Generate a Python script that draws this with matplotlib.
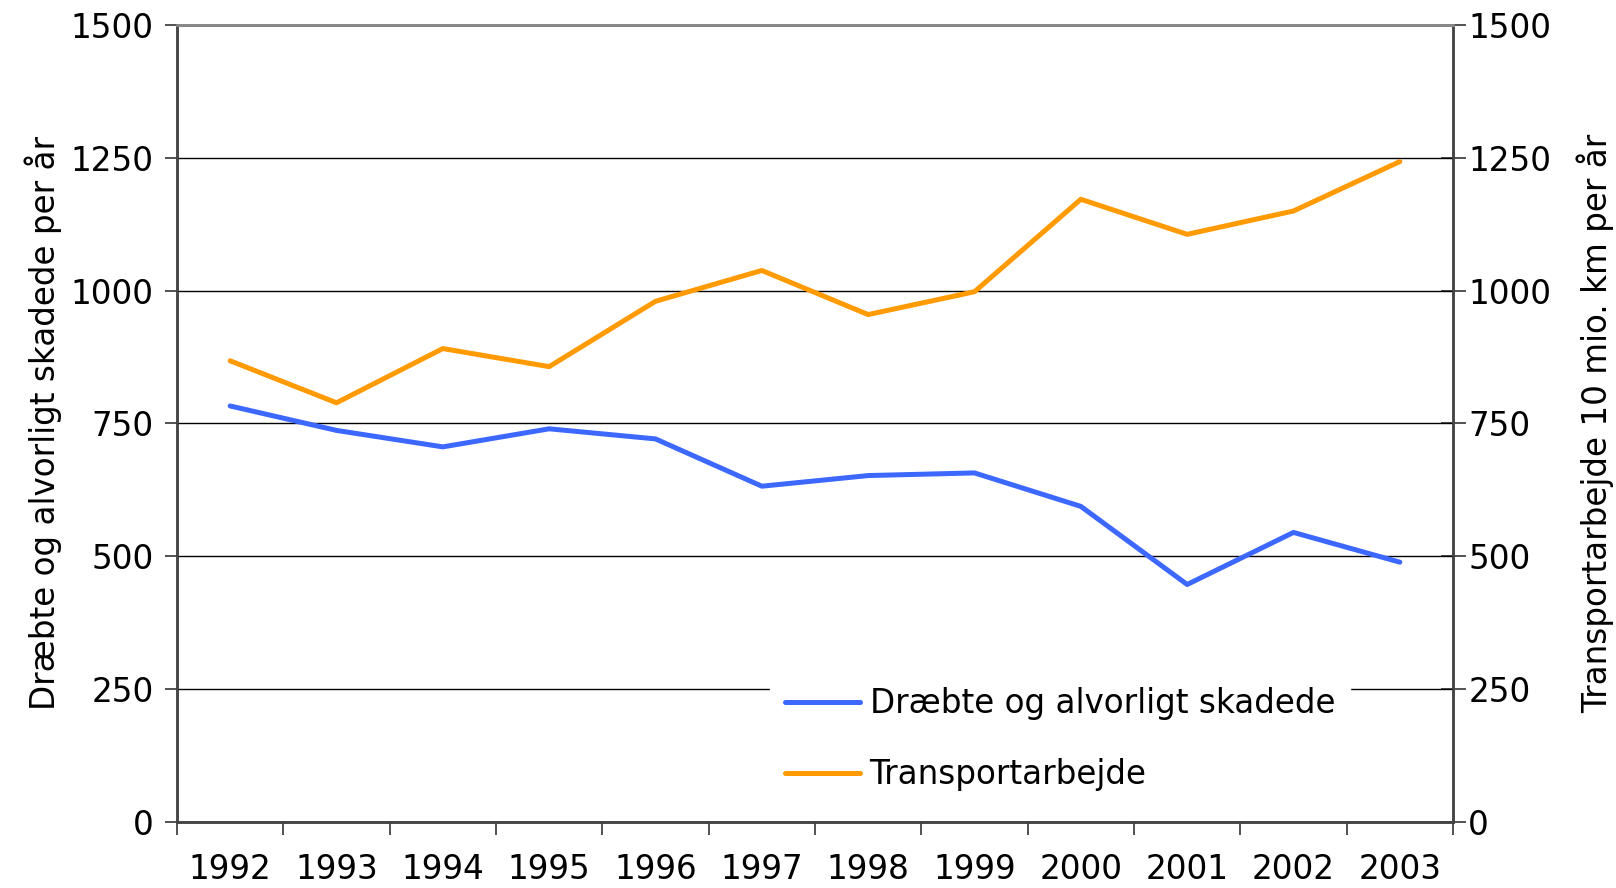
import numpy as np
import matplotlib
matplotlib.use("Agg")
import matplotlib.pyplot as plt

# ---------------------- DATA ----------------------

years = ['1992', '1993', '1994', '1995', '1996', '1997',
         '1998', '1999', '2000', '2001', '2002', '2003']
injured = [783, 737, 706, 740, 721, 632, 652, 657, 594, 447, 545, 489]
transport = [868, 789, 891, 857, 980, 1038, 955, 998, 1172, 1106, 1150, 1243]
y_ticks = [0, 250, 500, 750, 1000, 1250, 1500]

BLUE = '#3D68FF'
ORANGE = '#FF9A00'

# ---------------------- CHART ----------------------

plt.rcParams['font.family'] = ['DejaVu Sans']
fig = plt.figure(figsize=(16.16, 8.88), dpi=100)
ax = fig.add_axes([177 / 1616, 1 - 822 / 888, (1453 - 177) / 1616, (822 - 25) / 888])
ax2 = ax.twinx()

x = np.arange(len(years))
ax.plot(x, injured, color=BLUE, lw=3.6, solid_capstyle='round', label='Dræbte og alvorligt skadede', zorder=3)
ax.plot(x, transport, color=ORANGE, lw=3.6, solid_capstyle='round', label='Transportarbejde', zorder=3)

for a in (ax, ax2):
    a.set_ylim(0, 1500)
    a.set_yticks(y_ticks)
    a.set_xlim(-0.5, len(years) - 0.5)

ax.yaxis.grid(True, color='black', lw=1)
ax.set_axisbelow(True)

ax.set_xticks(np.arange(len(years) + 1) - 0.5)
ax.set_xticklabels([])
ax.set_xticks(x, minor=True)
ax.set_xticklabels(years, minor=True)
ax.tick_params(axis='x', which='major', direction='out', length=9, width=1.2, color='#333333')
ax.tick_params(axis='x', which='minor', length=0, labelsize=23.5, pad=22)
ax.tick_params(axis='y', direction='out', length=9, width=1.2, color='#333333', labelsize=23.5, pad=8)
ax2.tick_params(axis='y', direction='inout', length=18, width=1.2, color='#333333', labelsize=23.5, pad=2)

for s in ['left', 'bottom', 'right']:
    ax.spines[s].set_color('#444444')
    ax.spines[s].set_linewidth(1.8)
    ax2.spines[s].set_color('#444444')
    ax2.spines[s].set_linewidth(1.8)
ax.spines['top'].set_color('#888888')
ax.spines['top'].set_linewidth(2)
ax2.spines['top'].set_color('#888888')
ax2.spines['top'].set_linewidth(2)

ax.set_ylabel('Dræbte og alvorligt skadede per år', fontsize=23.5, labelpad=6)
ax2.set_ylabel('Transportarbejde 10 mio. km per år', fontsize=23.5, labelpad=18)

leg = ax.legend(loc='lower left', bbox_to_anchor=(0.452, 0.0), fontsize=23.5,
                frameon=True, fancybox=False, edgecolor='white', framealpha=1,
                handlelength=2.3, handletextpad=0.3, labelspacing=1.15,
                borderpad=0.45)
ax.set_zorder(ax2.get_zorder() + 1)
ax.patch.set_visible(False)

fig.savefig('out.png', dpi=100)
